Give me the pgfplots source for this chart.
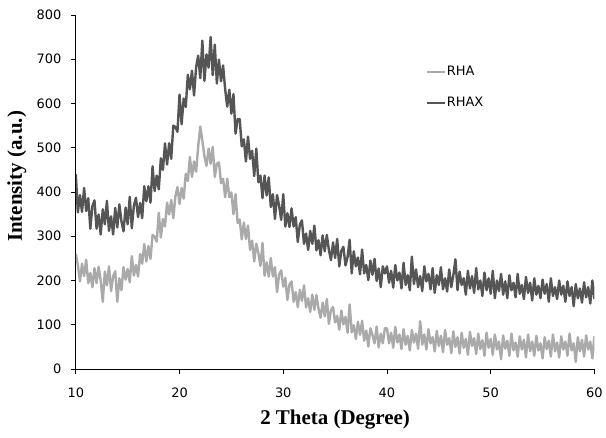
\documentclass[border=0pt]{standalone}
\usepackage{fontspec}
\setmainfont{Liberation Serif}
\newfontfamily\tickfont{DejaVu Sans}
\usepackage{pgfplots}
\usepackage{pgfplotstable}
\pgfplotsset{compat=1.18}

\definecolor{rhagray}{RGB}{170,170,170}
\definecolor{rhaxgray}{RGB}{85,85,85}

% RHAX pattern, 2theta step 0.2
\pgfplotstableread{
x y
10.0 440
10.2 354
10.4 393
10.6 355
10.8 409
11.0 357
11.2 386
11.4 317
11.6 368
11.8 381
12.0 317
12.2 349
12.4 304
12.6 361
12.8 327
13.0 380
13.2 312
13.4 345
13.6 304
13.8 364
14.0 320
14.2 372
14.4 334
14.6 311
14.8 365
15.0 327
15.2 389
15.4 318
15.6 369
15.8 387
16.0 343
16.2 375
16.4 341
16.6 413
16.8 379
17.0 413
17.2 376
17.4 458
17.6 402
17.8 437
18.0 406
18.2 476
18.4 450
18.6 510
18.8 462
19.0 510
19.2 475
19.4 550
19.6 547
19.8 536
20.0 620
20.2 553
20.4 611
20.6 592
20.8 665
21.0 632
21.2 674
21.4 618
21.6 682
21.8 708
22.0 657
22.2 742
22.4 651
22.6 711
22.8 681
23.0 750
23.2 664
23.4 733
23.6 645
23.8 699
24.0 650
24.2 686
24.4 632
24.6 593
24.8 631
25.0 577
25.2 621
25.4 532
25.6 565
25.8 565
26.0 503
26.2 519
26.4 469
26.6 525
26.8 475
27.0 493
27.2 436
27.4 498
27.6 422
27.8 437
28.0 386
28.2 437
28.4 392
28.6 433
28.8 366
29.0 395
29.2 339
29.4 393
29.6 369
29.8 337
30.0 395
30.2 322
30.4 352
30.6 321
30.8 363
31.0 322
31.2 343
31.4 287
31.6 326
31.8 336
32.0 283
32.2 306
32.4 269
32.6 312
32.8 283
33.0 324
33.2 268
33.4 291
33.6 257
33.8 302
34.0 266
34.2 303
34.4 269
34.6 246
34.8 286
35.0 251
35.2 294
35.4 232
35.6 267
35.8 276
36.0 234
36.2 253
36.4 292
36.6 216
36.8 266
37.0 232
37.2 252
37.4 214
37.6 270
37.8 216
38.0 235
38.2 201
38.4 245
38.6 213
38.8 249
39.0 199
39.2 227
39.4 185
39.6 232
39.8 216
40.0 232
40.2 195
40.4 222
40.6 184
40.8 235
41.0 200
41.2 218
41.4 182
41.6 240
41.8 190
42.0 212
42.2 178
42.4 254
42.6 192
42.8 225
43.0 185
43.2 210
43.4 176
43.6 232
43.8 198
44.0 215
44.2 180
44.4 228
44.6 172
44.8 212
45.0 190
45.2 230
45.4 180
45.6 205
45.8 175
46.0 225
46.2 185
46.4 212
46.6 248
46.8 178
47.0 220
47.2 190
47.4 205
47.6 168
47.8 222
48.0 182
48.2 210
48.4 172
48.6 228
48.8 180
49.0 200
49.2 165
49.4 218
49.6 178
49.8 205
50.0 170
50.2 222
50.4 160
50.6 200
50.8 176
51.0 215
51.2 168
51.4 198
51.6 160
51.8 212
52.0 178
52.2 195
52.4 162
52.6 215
52.8 170
53.0 190
53.2 158
53.4 208
53.6 172
53.8 195
54.0 155
54.2 205
54.4 168
54.6 188
54.8 160
55.0 202
55.2 170
55.4 192
55.6 152
55.8 205
56.0 165
56.2 185
56.4 158
56.6 200
56.8 168
57.0 188
57.2 152
57.4 198
57.6 165
57.8 185
58.0 142
58.2 192
58.4 160
58.6 182
58.8 150
59.0 196
59.2 162
59.4 185
59.6 148
59.8 200
60.0 158
}\rhax

% RHA pattern, 2theta step 0.2
\pgfplotstableread{
x y
10.0 260
10.2 235
10.4 198
10.6 238
10.8 210
11.0 247
11.2 194
11.4 217
11.6 185
11.8 228
12.0 194
12.2 231
12.4 200
12.6 152
12.8 220
13.0 189
13.2 232
13.4 176
13.6 210
13.8 221
14.0 152
14.2 205
14.4 178
14.6 230
14.8 202
15.0 226
15.2 196
15.4 255
15.6 211
15.8 235
16.0 209
16.2 260
16.4 238
16.6 282
16.8 243
17.0 278
17.2 249
17.4 303
17.6 299
17.8 288
18.0 353
18.2 297
18.4 339
18.6 322
18.8 376
19.0 349
19.2 382
19.4 341
19.6 390
19.8 411
20.0 373
20.2 409
20.4 385
20.6 441
20.8 425
21.0 479
21.2 434
21.4 469
21.6 446
21.8 503
22.0 548
22.2 516
22.4 481
22.6 459
22.8 498
23.0 464
23.2 502
23.4 434
23.6 464
23.8 467
24.0 420
24.2 430
24.4 388
24.6 430
24.8 388
25.0 399
25.2 350
25.4 395
25.6 330
25.8 338
26.0 293
26.2 331
26.4 294
26.6 324
26.8 269
27.0 290
27.2 243
27.4 283
27.6 262
27.8 233
28.0 285
28.2 211
28.4 241
28.6 209
28.8 251
29.0 209
29.2 230
29.4 174
29.6 213
29.8 223
30.0 186
30.2 206
30.4 156
30.6 191
30.8 198
31.0 152
31.2 174
31.4 140
31.6 179
31.8 154
32.0 189
32.2 139
32.4 160
32.6 129
32.8 168
33.0 134
33.2 167
33.4 136
33.6 116
33.8 150
34.0 119
34.2 158
34.4 102
34.6 133
34.8 140
35.0 105
35.2 120
35.4 89
35.6 132
35.8 101
36.0 118
36.2 82
36.4 146
36.6 83
36.8 99
37.0 68
37.2 107
37.4 77
37.6 109
37.8 64
38.0 87
38.2 51
38.4 92
38.6 77
38.8 58
39.0 96
39.2 49
39.4 80
39.6 58
39.8 92
40.0 92
40.2 58
40.4 82
40.6 48
40.8 95
41.0 60
41.2 78
41.4 45
41.6 90
41.8 55
42.0 75
42.2 42
42.4 88
42.6 60
42.8 80
43.0 46
43.2 108
43.4 55
43.6 78
43.8 44
44.0 90
44.2 58
44.4 72
44.6 40
44.8 86
45.0 52
45.2 75
45.4 38
45.6 88
45.8 55
46.0 70
46.2 36
46.4 85
46.6 50
46.8 72
47.0 35
47.2 82
47.4 48
47.6 68
47.8 32
48.0 84
48.2 52
48.4 70
48.6 34
48.8 80
49.0 45
49.2 65
49.4 30
49.6 82
49.8 48
50.0 68
50.2 32
50.4 78
50.6 44
50.8 62
51.0 22
51.2 76
51.4 46
51.6 64
51.8 30
52.0 80
52.2 42
52.4 60
52.6 28
52.8 74
53.0 44
53.2 66
53.4 26
53.6 78
53.8 40
54.0 62
54.2 30
54.4 75
54.6 42
54.8 58
55.0 24
55.2 72
55.4 45
55.6 64
55.8 28
56.0 78
56.2 40
56.4 60
56.6 26
56.8 74
57.0 44
57.2 62
57.4 30
57.6 80
57.8 42
58.0 58
58.2 16
58.4 72
58.6 40
58.8 66
59.0 28
59.2 76
59.4 44
59.6 62
59.8 24
60.0 74
}\rha

\begin{document}
\begin{tikzpicture}
\begin{axis}[
  scale only axis,
  width=520pt, height=355pt,
  xmin=10, xmax=60, ymin=0, ymax=800,
  axis lines=left,
  axis line style={-, line width=0.9pt},
  tick align=outside,
  major tick length=5pt,
  tick style={black, line width=0.9pt},
  xtick={10,20,...,60},
  ytick={0,100,...,800},
  /pgf/number format/assume math mode=true,
  tick label style={font=\tickfont\fontsize{13}{15}\selectfont},
  yticklabel style={xshift=-6pt},
  xticklabel style={yshift=-10pt},
  xlabel={\textbf{2 Theta (Degree)}},
  ylabel={\textbf{Intensity (a.u.)}},
  label style={font=\fontsize{21}{24}\selectfont},
  xlabel style={at={(axis description cs:0.5,-0.143)}, anchor=center},
  ylabel style={at={(axis description cs:-0.1135,0.544)}, anchor=center},
  legend cell align=left,
  legend style={draw=none, fill=none, inner sep=0pt,
    at={(0.675,0.858)}, anchor=north west,
    font=\tickfont\fontsize{13}{15}\selectfont,
    row sep=18pt, nodes={inner sep=1pt}},
  legend image code/.code={\draw[#1, line width=1.8pt] (0pt,0pt) -- (18pt,0pt);},
]
\addplot[rhagray, line width=2.4pt, line join=round] table[x=x, y=y] {\rha};
\addlegendentry{RHA}
\addplot[rhaxgray, line width=2.4pt, line join=round] table[x=x, y=y] {\rhax};
\addlegendentry{RHAX}
\end{axis}
\path (current axis.south west) ++(-76pt,-69pt) coordinate (bl);
\path (current axis.north east) ++(10pt,15pt) coordinate (tr);
\path (bl) rectangle (tr);
\end{tikzpicture}
\end{document}
